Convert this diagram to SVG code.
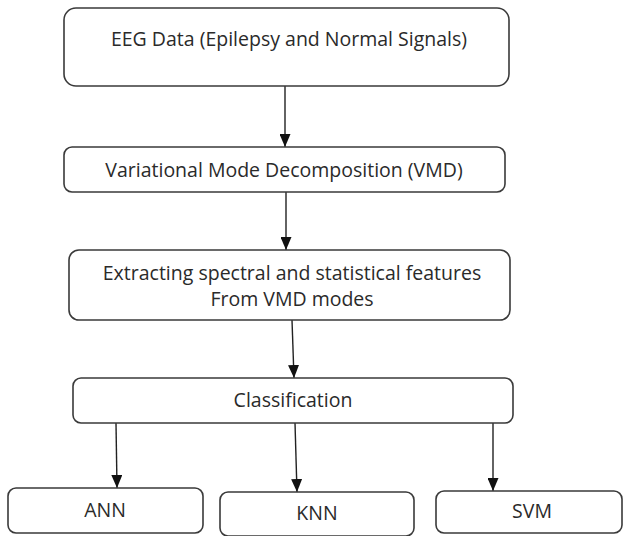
<svg xmlns="http://www.w3.org/2000/svg" width="624" height="536" viewBox="0 0 624 536">
  <style>
    .box { fill: #ffffff; stroke: #3a3a3a; stroke-width: 1.6; }
    .lbl { font-family: "Open Sans", "Liberation Sans", sans-serif; font-size: 19.5px; fill: #2a2a2a; text-anchor: middle; }
    .edge { stroke: #222222; stroke-width: 1.4; fill: none; marker-end: url(#arrow); }
  </style>
  <defs>
    <marker id="arrow" markerUnits="userSpaceOnUse" markerWidth="13" markerHeight="11" viewBox="0 0 13 11" refX="13" refY="5.5" orient="auto">
      <path d="M0,0 L13,5.5 L0,11 Z" fill="#111111"/>
    </marker>
  </defs>
  <rect width="624" height="536" fill="#ffffff"/>

  <g id="connectors">
    <line class="edge" x1="285" y1="86" x2="285" y2="147"/>
    <line class="edge" x1="286" y1="192" x2="286" y2="250"/>
    <line class="edge" x1="292" y1="320" x2="294" y2="378"/>
    <line class="edge" x1="116" y1="423" x2="117" y2="488"/>
    <line class="edge" x1="295" y1="423" x2="297" y2="492"/>
    <line class="edge" x1="493" y1="423" x2="493" y2="491"/>
  </g>

  <g id="eeg-data">
    <rect class="box" x="64" y="8" width="445" height="78" rx="12"/>
    <text class="lbl" x="289" y="46">EEG Data (Epilepsy and Normal Signals)</text>
  </g>

  <g id="vmd">
    <rect class="box" x="64" y="147" width="441" height="45" rx="8"/>
    <text class="lbl" x="284" y="177">Variational Mode Decomposition (VMD)</text>
  </g>

  <g id="features">
    <rect class="box" x="69" y="250" width="441" height="70" rx="10"/>
    <text class="lbl" x="292" y="280">Extracting spectral and statistical features</text>
    <text class="lbl" x="292" y="306">From VMD modes</text>
  </g>

  <g id="classification">
    <rect class="box" x="73" y="378" width="440" height="45" rx="8"/>
    <text class="lbl" x="293" y="407">Classification</text>
  </g>

  <g id="ann">
    <rect class="box" x="8" y="488" width="195" height="45" rx="8"/>
    <text class="lbl" x="105" y="517">ANN</text>
  </g>

  <g id="knn">
    <rect class="box" x="220" y="492" width="194" height="44" rx="8"/>
    <text class="lbl" x="317" y="520">KNN</text>
  </g>

  <g id="svm">
    <rect class="box" x="436" y="491" width="186" height="42" rx="8"/>
    <text class="lbl" x="532" y="518">SVM</text>
  </g>
</svg>
